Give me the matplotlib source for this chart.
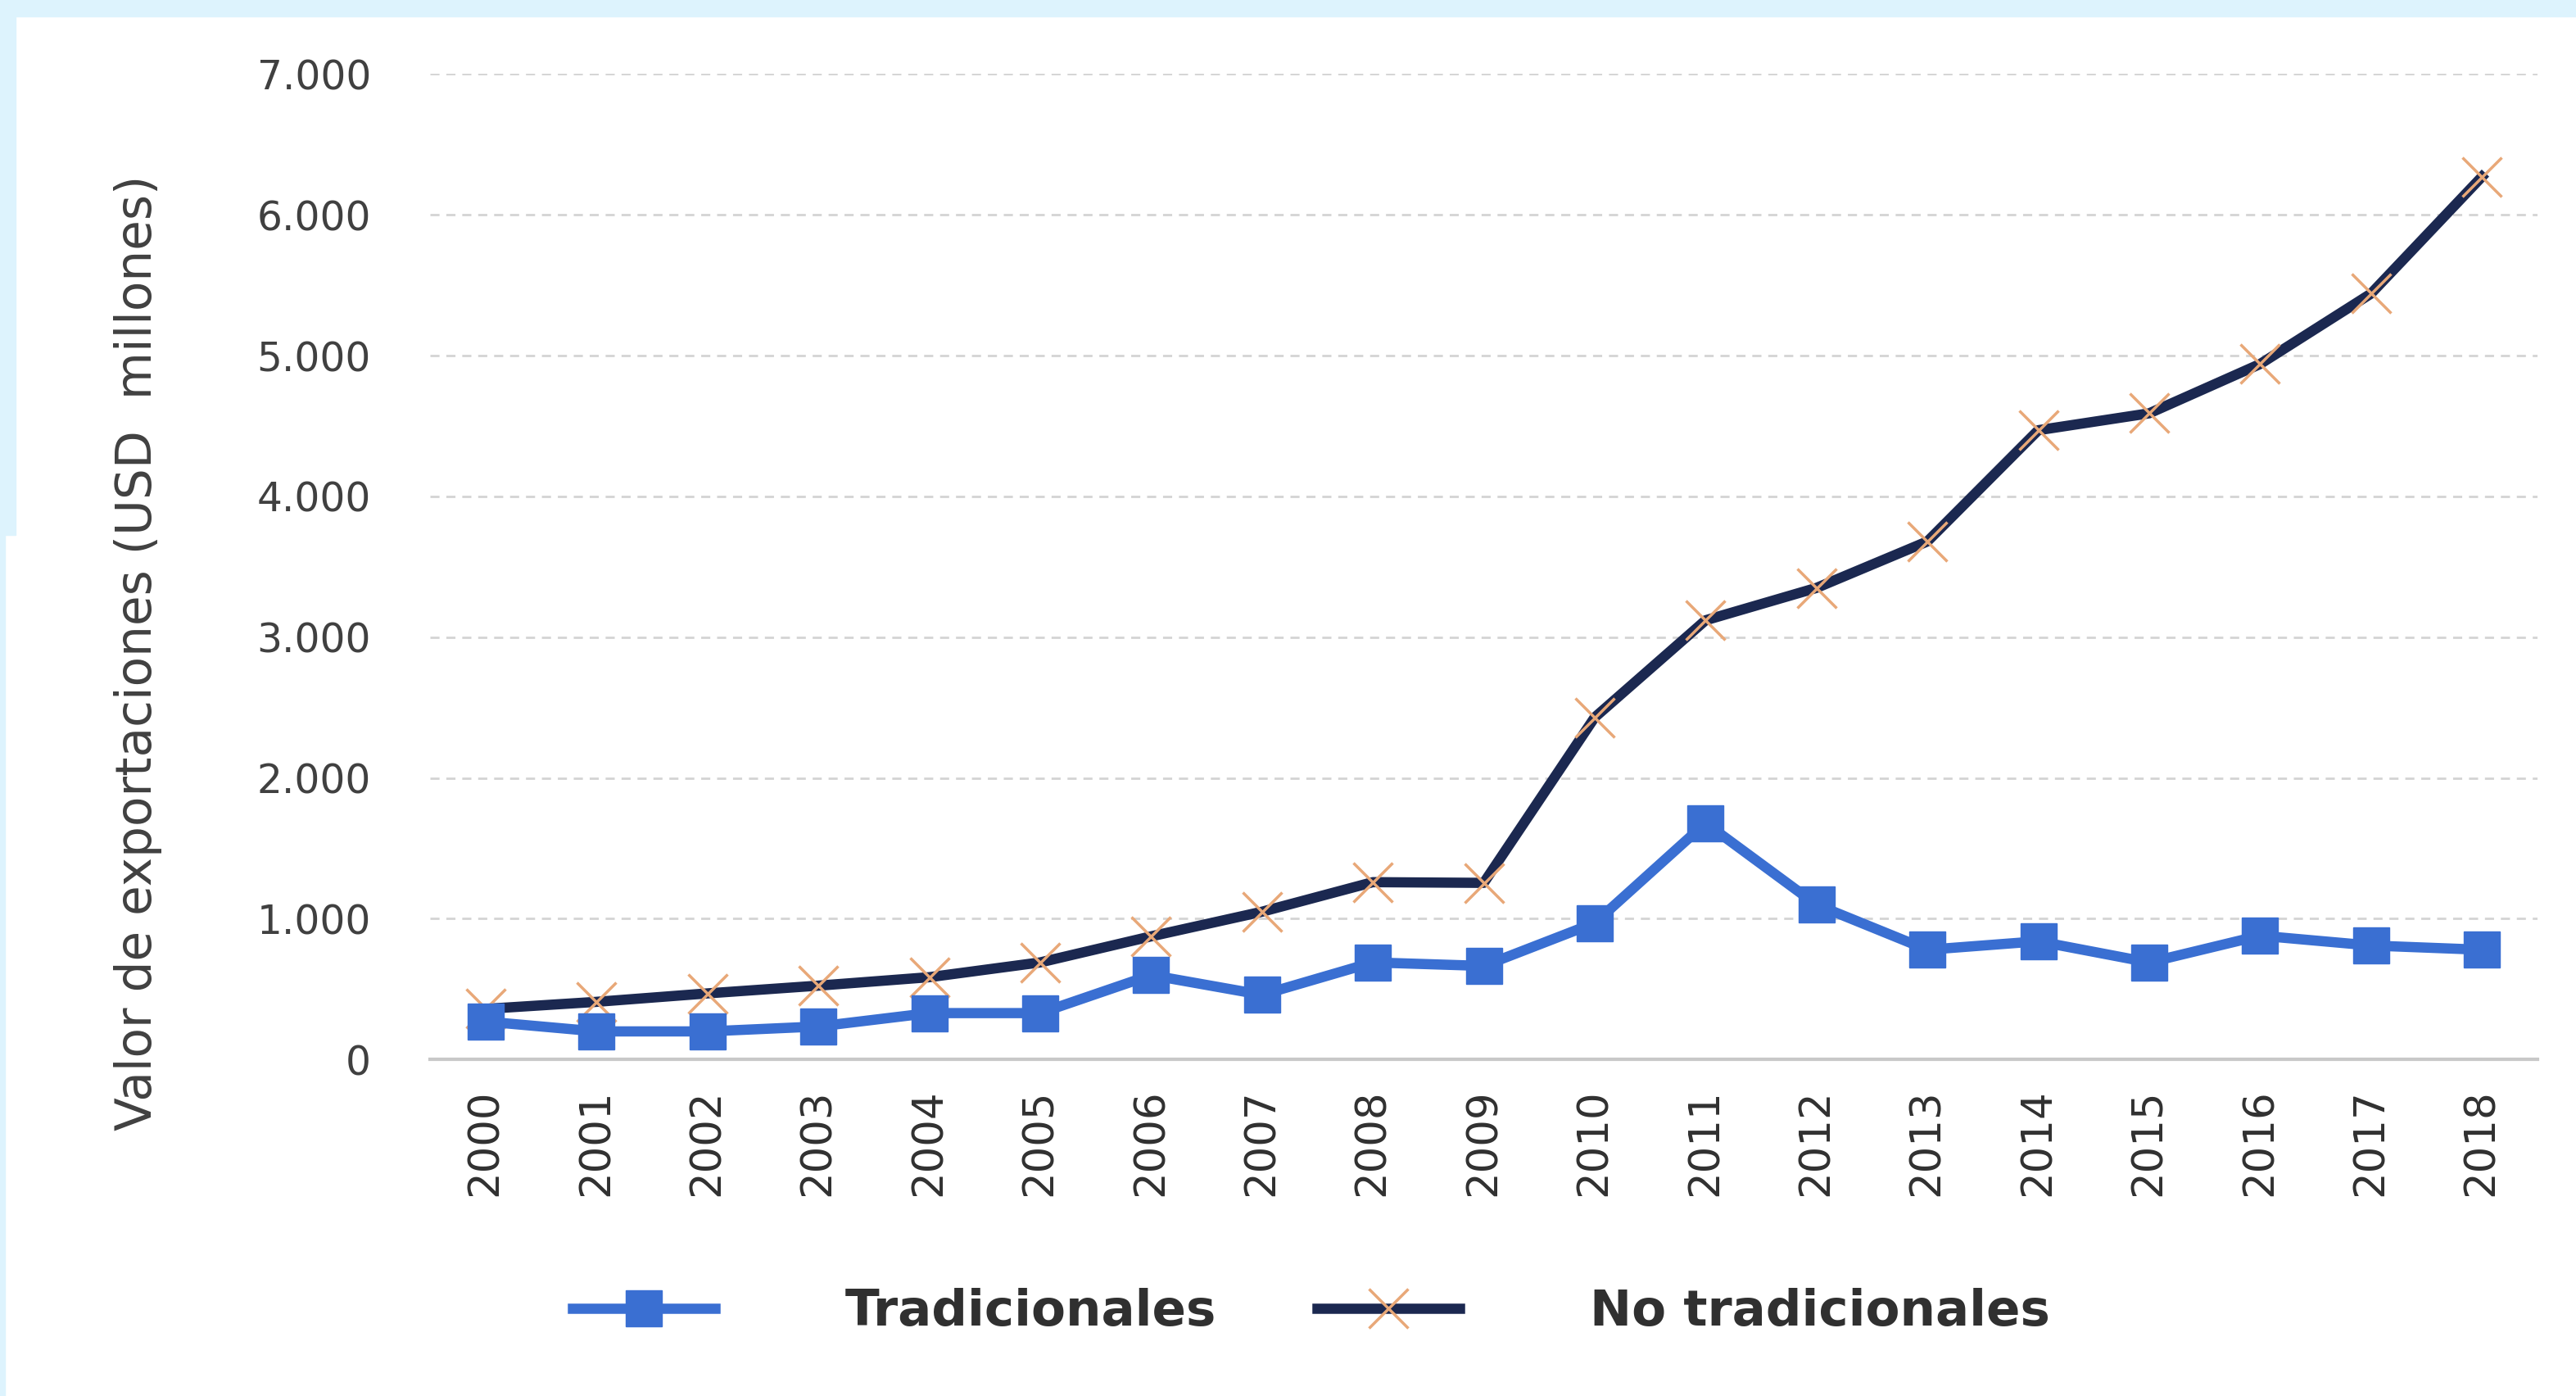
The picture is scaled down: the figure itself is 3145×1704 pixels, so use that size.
import matplotlib.pyplot as plt
from matplotlib.ticker import FuncFormatter, MultipleLocator
from matplotlib.patches import Rectangle

years = [str(y) for y in range(2000, 2019)]
tradicionales = [270, 200, 200, 235, 330, 330, 600, 460, 690, 665,
                 970, 1680, 1100, 780, 840, 690, 880, 810, 780]
no_tradicionales = [360, 410, 470, 525, 585, 690, 875, 1050, 1260, 1255,
                    2430, 3120, 3350, 3680, 4470, 4590, 4940, 5440, 6270]

fig = plt.figure(figsize=(31.45, 17.04), dpi=100)
fig.patch.set_facecolor("white")

# light blue frame pieces around the figure
fig.patches.append(Rectangle((0, 0.988), 1, 0.012, transform=fig.transFigure,
                             color="#DDF3FD", zorder=0))
fig.patches.append(Rectangle((0, 0.617), 0.006, 0.383, transform=fig.transFigure,
                             color="#DDF3FD", zorder=0))
fig.patches.append(Rectangle((0, 0), 0.002, 0.617, transform=fig.transFigure,
                             color="#DDF3FD", zorder=0))

ax = fig.add_axes([0.167, 0.241, 0.818, 0.706])
x = range(len(years))

ax.plot(x, no_tradicionales, color="#1B2850", lw=9, marker="x",
        markersize=34, markeredgewidth=2.5, markeredgecolor="#E8A878",
        label="No tradicionales", zorder=3)
ax.plot(x, tradicionales, color="#3A6FD2", lw=9, marker="s",
        markersize=32, markeredgecolor="#3A6FD2",
        label="Tradicionales", zorder=4)

ax.set_xlim(-0.5, len(years) - 0.5)
ax.set_ylim(0, 7000)
ax.yaxis.set_major_locator(MultipleLocator(1000))
ax.yaxis.set_major_formatter(FuncFormatter(lambda v, p: f"{int(v):,}".replace(",", ".")))
ax.set_xticks(list(x))
ax.set_xticklabels(years, rotation=90)

ax.grid(axis="y", color="#D4D4D4", linestyle=(0, (4, 3)), lw=2)
ax.set_axisbelow(True)
for s in ["top", "right", "left"]:
    ax.spines[s].set_visible(False)
ax.spines["bottom"].set_color("#C8C8C8")
ax.spines["bottom"].set_linewidth(3)

ax.tick_params(axis="y", length=0, pad=52, labelsize=35, labelcolor="#404040")
ax.tick_params(axis="x", length=0, pad=26, labelsize=37, labelcolor="#303030")

ax.set_ylabel("Valor de exportaciones (USD  millones)", fontsize=43,
              color="#404040")
ax.yaxis.set_label_coords(-0.127, 0.413)

handles, labels = ax.get_legend_handles_labels()
leg = fig.legend(handles[::-1], labels[::-1], loc="center",
                 bbox_to_anchor=(0.509, 0.06), ncol=2, frameon=False,
                 handlelength=2.85, handletextpad=2.6, columnspacing=2.0,
                 prop={"size": 44, "weight": "bold"})
for t in leg.get_texts():
    t.set_color("#303030")

fig.savefig("out.png", dpi=100)
